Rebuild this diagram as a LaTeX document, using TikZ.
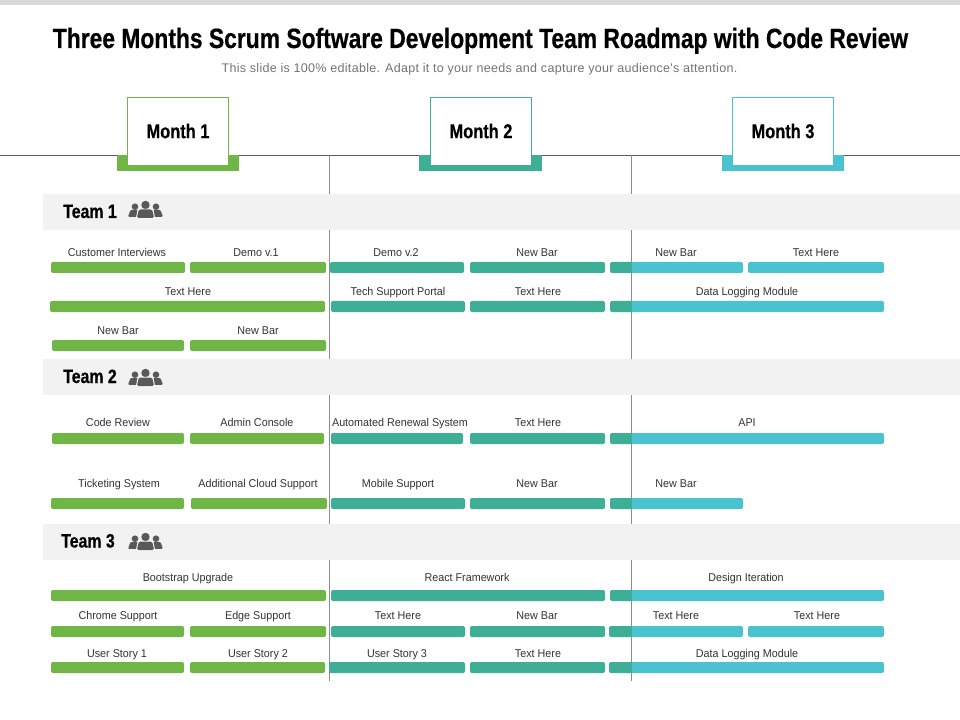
\documentclass[tikz,border=0pt]{standalone}
\usepackage{fontspec}
\usepackage{xcolor}
\setmainfont{Liberation Sans}
\newfontfamily\narrowfont{Liberation Sans}[FakeStretch=0.82,BoldFeatures={FakeStretch=0.82,FakeBold=0.5}]
\newfontfamily\labelfont{Liberation Sans}[FakeStretch=0.95]
\newfontfamily\subfont{Liberation Sans}[LetterSpace=2.3]
\definecolor{grn}{HTML}{70B647}
\definecolor{tealbar}{HTML}{3FAE96}
\definecolor{cyanbar}{HTML}{4BC2D0}
\definecolor{bandgray}{HTML}{F2F2F2}
\definecolor{iconGray}{HTML}{595959}
\tikzset{
  barbox/.style={rounded corners=1.5pt},
  tasklabel/.style={font=\labelfont\fontsize{8.5}{10}\selectfont,text=black!80,inner sep=0pt,anchor=base},
  teamlabel/.style={font=\narrowfont\bfseries\fontsize{14.5}{16}\selectfont,text=black,inner sep=0pt,anchor=base},
  monthbox/.style={draw,fill=white,line width=0.6pt,minimum width=75.75pt,minimum height=51pt,
    font=\narrowfont\bfseries\fontsize{15}{17}\selectfont,text=black,inner sep=0pt},
}
% one task: colour, x from, x to, y of bar, label, x of label, y of label
\newcommand{\taskbar}[7]{
  \fill[barbox,#1] (#2,#4-5.5) rectangle (#3,#4+5.5);
  \node[tasklabel] at (#6,#7+4.5) {#5};
}
% the teal end that runs into month 3
\newcommand{\tealcap}[2]{
  \fill[tealbar,rounded corners=1.5pt] (631.5,#2-5.5) -- (#1,#2-5.5) -- (#1,#2+5.5) -- (631.5,#2+5.5) -- cycle;
  \fill[tealbar] (625,#2-5.5) rectangle (631.5,#2+5.5);
}
\newcommand{\teamicon}[1]{
  \begin{scope}[yshift=#1*-0.75pt]
    \fill[iconGray] (135,-3.3) circle (3.3);
    \fill[iconGray] (156,-3.3) circle (3.3);
    \fill[iconGray,rounded corners=0.8pt] (128,6.8) -- (130.5,0) -- (140,0) -- (142,6.8) -- cycle;
    \fill[iconGray,rounded corners=0.8pt] (149,6.8) -- (151,0) -- (160.5,0) -- (163,6.8) -- cycle;
    \fill[iconGray] (145.5,-5) circle (4.2);
    \fill[white,rounded corners=1.2pt] (135.8,8.5) -- (137.8,-1.2) -- (153.2,-1.2) -- (155.2,8.5) -- cycle;
    \fill[iconGray,rounded corners=1.2pt] (136.8,8) -- (138.8,-0.5) -- (152.2,-0.5) -- (154.2,8) -- cycle;
  \end{scope}
}

\begin{document}
\begin{tikzpicture}[x=0.75pt,y=-0.75pt]
\useasboundingbox (0,0) rectangle (960,720);
\fill[black!15] (0,0) rectangle (960,5);
\node[font=\narrowfont\bfseries\fontsize{20.9}{24}\selectfont,inner sep=0pt,anchor=base] (title) at (480.5,48) {Three Months Scrum Software Development Team Roadmap with Code Review};
\node[font=\subfont\fontsize{9.4}{11}\selectfont,text=black!55,inner sep=0pt,anchor=base] (subtitle) at (479.5,72.5) {This slide is 100\% editable. Adapt it to your needs and capture your audience's attention.};

% month headers
\draw[black!65,line width=0.75pt] (0,155.5) -- (960,155.5);
\draw[black!45,line width=0.6pt] (329.5,155) -- (329.5,681);
\draw[black!45,line width=0.6pt] (631.5,155) -- (631.5,681);
\fill[grn] (117,155) rectangle (239,171);
\fill[tealbar] (419,155) rectangle (542,171);
\fill[cyanbar] (722,155) rectangle (844,171);
\node[monthbox,draw=grn] (month1) at (178,131) {Month 1};
\node[monthbox,draw=tealbar] (month2) at (481,131) {Month 2};
\node[monthbox,draw=cyanbar] (month3) at (783,131) {Month 3};

% team bands
\fill[bandgray] (43,194) rectangle (960,230);
\fill[bandgray] (43,359) rectangle (960,395);
\fill[bandgray] (43,524) rectangle (960,560);
\node[teamlabel] (team1) at (90,218) {Team 1};
\node[teamlabel] (team2) at (90,383) {Team 2};
\node[teamlabel] (team3) at (88,547.5) {Team 3};
\teamicon{210}
\teamicon{378}
\teamicon{542}

% team 1
\taskbar{grn}{51}{185}{267.5}{Customer Interviews}{117}{252}
\taskbar{grn}{190}{326}{267.5}{Demo v.1}{256}{252}
\taskbar{tealbar}{330}{464}{267.5}{Demo v.2}{396}{252}
\taskbar{tealbar}{470}{605}{267.5}{New Bar}{537}{252}
\taskbar{cyanbar}{625}{743}{267.5}{New Bar}{676}{252}
\tealcap{610}{267.5}
\taskbar{cyanbar}{748}{884}{267.5}{Text Here}{816}{252}
\taskbar{grn}{50}{325}{306.5}{Text Here}{188}{291}
\taskbar{tealbar}{331}{465}{306.5}{Tech Support Portal}{398}{291}
\taskbar{tealbar}{470}{605}{306.5}{Text Here}{538}{291}
\taskbar{cyanbar}{625}{884}{306.5}{Data Logging Module}{747}{291}
\tealcap{610}{306.5}
\taskbar{grn}{52}{184}{345.5}{New Bar}{118}{330}
\taskbar{grn}{190}{326}{345.5}{New Bar}{258}{330}

% team 2
\taskbar{grn}{52}{184}{438.5}{Code Review}{118}{422}
\taskbar{grn}{190}{324}{438.5}{Admin Console}{257}{422}
\taskbar{tealbar}{331}{463}{438.5}{Automated Renewal System}{400}{422}
\taskbar{tealbar}{470}{605}{438.5}{Text Here}{538}{422}
\taskbar{cyanbar}{625}{884}{438.5}{API}{747}{422}
\tealcap{610}{438.5}
\taskbar{grn}{51}{184}{503.5}{Ticketing System}{119}{483}
\taskbar{grn}{191}{327}{503.5}{Additional Cloud Support}{258}{483}
\taskbar{tealbar}{331}{465}{503.5}{Mobile Support}{398}{483}
\taskbar{tealbar}{470}{605}{503.5}{New Bar}{537}{483}
\taskbar{cyanbar}{625}{743}{503.5}{New Bar}{676}{483}
\tealcap{610}{503.5}

% team 3
\taskbar{grn}{51}{326}{595.5}{Bootstrap Upgrade}{188}{577}
\taskbar{tealbar}{331}{605}{595.5}{React Framework}{467}{577}
\taskbar{cyanbar}{625}{884}{595.5}{Design Iteration}{746}{577}
\tealcap{610}{595.5}
\taskbar{grn}{51}{184}{631.5}{Chrome Support}{118}{615}
\taskbar{grn}{190}{326}{631.5}{Edge Support}{258}{615}
\taskbar{tealbar}{331}{465}{631.5}{Text Here}{398}{615}
\taskbar{tealbar}{470}{605}{631.5}{New Bar}{537}{615}
\taskbar{cyanbar}{625}{743}{631.5}{Text Here}{676}{615}
\tealcap{609}{631.5}
\taskbar{cyanbar}{748}{884}{631.5}{Text Here}{817}{615}
\taskbar{grn}{51}{184}{667.5}{User Story 1}{117}{653}
\taskbar{grn}{190}{325}{667.5}{User Story 2}{258}{653}
\taskbar{tealbar}{329}{465}{667.5}{User Story 3}{397}{653}
\taskbar{tealbar}{470}{605}{667.5}{Text Here}{538}{653}
\taskbar{cyanbar}{625}{884}{667.5}{Data Logging Module}{747}{653}
\tealcap{609}{667.5}
\end{tikzpicture}
\end{document}
